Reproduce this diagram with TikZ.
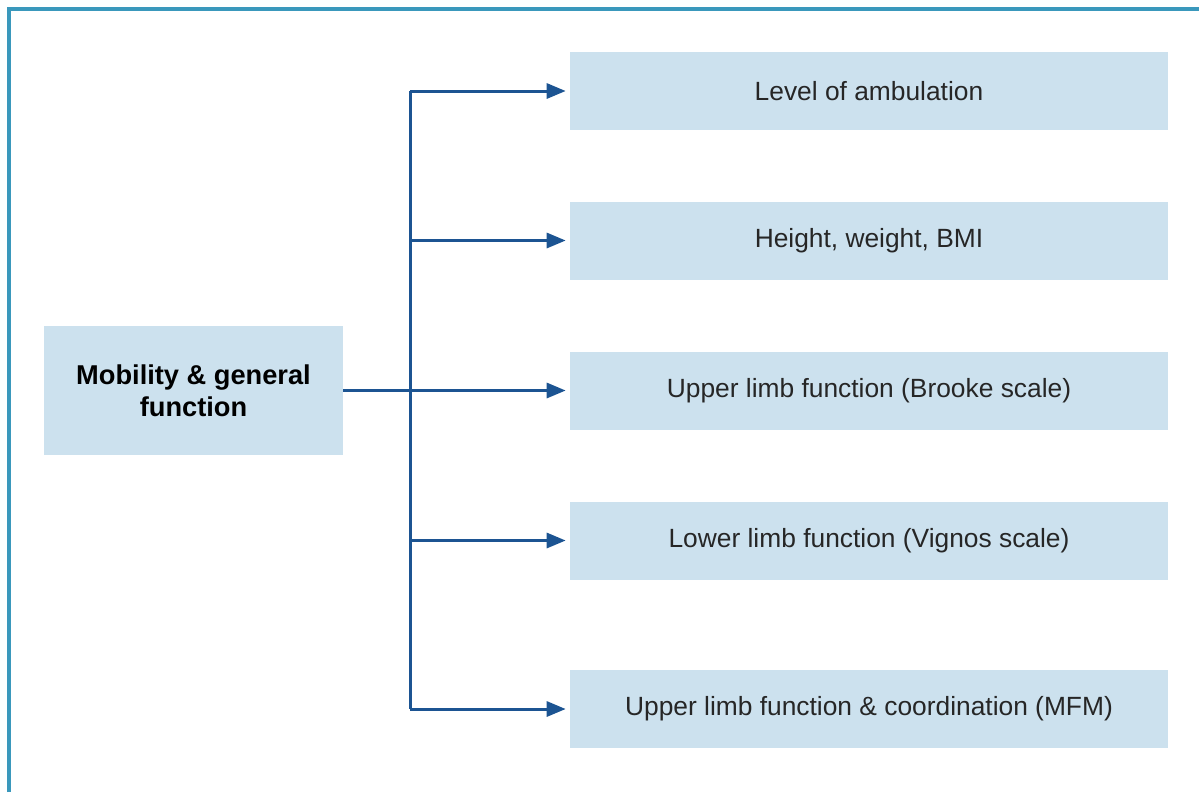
\documentclass[tikz,border=0pt]{standalone}
\usepackage{fontspec}
\setmainfont{Liberation Sans}
\usetikzlibrary{arrows.meta,positioning}
\definecolor{boxblue}{RGB}{204,225,238}
\definecolor{linkblue}{RGB}{28,84,146}
\definecolor{frameteal}{RGB}{58,152,188}

\begin{document}
\begin{tikzpicture}[x=0.02cm,y=-0.02cm,>={Triangle[length=0.38cm,width=0.3cm]},
  box/.style={fill=boxblue,minimum width=11.96cm,minimum height=1.56cm,
    font=\fontsize{15}{17}\selectfont,text=black!85},
  mainbox/.style={fill=boxblue,minimum width=5.98cm,minimum height=2.58cm,
    align=center,font=\fontsize{15.5}{18}\selectfont\bfseries},
  link/.style={draw=linkblue,line width=0.06cm}]
\useasboundingbox (0,0) rectangle (1199,792);
% frame
\draw[frameteal,line width=0.08cm] (9,792) -- (9,8.5) -- (1199,8.5);

\node[mainbox] (main) at (193.5,390.5) {Mobility \& general\\function};
\node[box] (l1) at (869,91) {Level of ambulation};
\node[box] (l2) at (869,240.5) {Height, weight, BMI};
\node[box] (l3) at (869,390.5) {Upper limb function (Brooke scale)};
\node[box] (l4) at (869,540.5) {Lower limb function (Vignos scale)};
\node[box] (l5) at (869,709) {Upper limb function \& coordination (MFM)};

\coordinate (split) at (410,390.5);
\draw[link] (main.east) -- (split);
\draw[link] (split |- l1) -- (split |- l5);
\foreach \i in {1,...,5}
  \draw[link,->,shorten >=0.08cm] (split |- l\i) -- (l\i.west);
\end{tikzpicture}
\end{document}
